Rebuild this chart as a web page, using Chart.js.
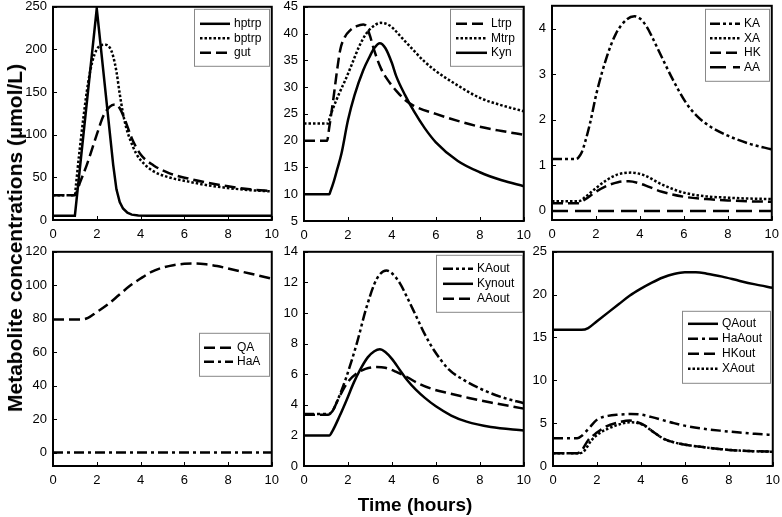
<!DOCTYPE html>
<html>
<head>
<meta charset="utf-8">
<script src="https://cdn.jsdelivr.net/npm/chart.js@4.4.0/dist/chart.umd.min.js"></script>
<style>
    body { margin: 0; background: #fff; }
    #wrap { position: relative; width: 782px; height: 517px; overflow: hidden; font-family: "Liberation Sans", Arial, sans-serif; }
    #wrap canvas { position: absolute; }
    .ytitle { position: absolute; left: 15px; top: 238px; transform: translate(-50%, -50%) rotate(-90deg); font-weight: bold; font-size: 21px; white-space: nowrap; }
    .xtitle { position: absolute; left: 415px; top: 505px; transform: translate(-50%, -50%); font-weight: bold; font-size: 19px; white-space: nowrap; }
</style>
</head>
<body>
<div id="wrap">
    <canvas id="p1"></canvas>
    <canvas id="p2"></canvas>
    <canvas id="p3"></canvas>
    <canvas id="p4"></canvas>
    <canvas id="p5"></canvas>
    <canvas id="p6"></canvas>
    <div class="ytitle">Metabolite concentrations (µmol/L)</div>
    <div class="xtitle">Time (hours)</div>
</div>
<script>
// Values: [time (hours), concentration]

// shared x axis ticks
const hourTicks = [0, 2, 4, 6, 8, 10];

// Panel 1
const hptrp = [[0, 5], [1, 5], [2, 248], [2.25, 187], [2.5, 126], [2.75, 65], [2.9, 36], [3.05, 21], [3.2, 13.5], [3.4, 8.5], [3.6, 6.3], [3.9, 5.2], [4.3, 5], [10, 5]];
const bptrp = [[0, 29], [1, 29], [1.05, 41], [1.2, 78], [1.4, 122], [1.6, 160], [1.8, 186], [2.0, 200], [2.2, 205], [2.4, 205.5], [2.6, 202], [2.75, 192], [2.9, 174], [3.05, 148], [3.2, 125], [3.35, 108], [3.5, 96], [3.8, 78], [4.2, 65], [4.6, 57], [5.3, 50], [6.2, 45], [7, 41], [8, 37.5], [9, 35], [10, 33.5]];
const gut = [[0, 29], [1, 29], [1.05, 31], [1.25, 45], [1.55, 65], [2, 100], [2.3, 122], [2.6, 133], [2.85, 135.5], [3.05, 131], [3.25, 120], [3.6, 96], [4, 77], [4.6, 64], [5.3, 55], [6.2, 48.5], [7, 44], [8, 39.5], [9, 36], [10, 34]];
const p1Ticks = [0, 50, 100, 150, 200, 250];

// Panel 2
const Ltrp = [[0, 20], [1.05, 20], [1.15, 22.5], [1.33, 27.6], [1.5, 33], [1.65, 37], [1.85, 39.3], [2.1, 40.6], [2.4, 41.4], [2.7, 41.7], [2.85, 41.3], [3.0, 39.6], [3.2, 36.8], [3.5, 33.5], [3.8, 31.4], [4.2, 29.3], [4.6, 27.6], [5, 26.5], [6, 25], [7, 23.7], [8, 22.6], [9, 21.8], [10, 21.1]];
const Mtrp = [[0, 23.2], [1.1, 23.2], [1.15, 24], [1.3, 25.8], [1.6, 28.8], [1.9, 31.5], [2.2, 34.5], [2.5, 37.5], [2.8, 39.8], [3.1, 41.2], [3.5, 42], [3.9, 41.5], [4.5, 39], [5, 36.8], [5.5, 34.7], [6, 33], [7, 30.3], [8, 28], [9, 26.6], [10, 25.5]];
const Kyn = [[0, 10], [1.15, 10], [1.2, 10.5], [1.35, 12.3], [1.5, 14.5], [1.7, 17.5], [2, 23.8], [2.3, 28.5], [2.7, 33.2], [3, 35.8], [3.2, 37.3], [3.45, 38.2], [3.7, 37.3], [4, 34.5], [4.2, 32], [4.6, 28.5], [5, 25.5], [5.5, 22.3], [6, 19.7], [7, 16.2], [8, 14.1], [9, 12.6], [10, 11.5]];
const p2Ticks = [5, 10, 15, 20, 25, 30, 35, 40, 45];

// Panel 3
const KA = [[0, 1.14], [1.1, 1.14], [1.2, 1.17], [1.35, 1.28], [1.5, 1.5], [1.73, 1.92], [2.03, 2.59], [2.5, 3.39], [2.9, 3.88], [3.4, 4.2], [3.75, 4.27], [4, 4.22], [4.3, 4.05], [4.6, 3.77], [4.9, 3.47], [5.5, 2.88], [6.1, 2.37], [6.6, 2.08], [7.2, 1.85], [8, 1.65], [8.4, 1.57], [9, 1.47], [10, 1.35]];
const XA = [[0, 0.21], [1.2, 0.21], [1.5, 0.3], [2, 0.5], [2.5, 0.68], [3, 0.8], [3.6, 0.84], [4.2, 0.78], [5, 0.58], [6, 0.4], [7, 0.32], [8, 0.29], [9, 0.27], [10, 0.26]];
const HK = [[0, 0.17], [1.2, 0.17], [1.5, 0.25], [2, 0.42], [2.5, 0.55], [3, 0.63], [3.5, 0.65], [4, 0.6], [5, 0.42], [6, 0.31], [7, 0.26], [8, 0.23], [9, 0.21], [10, 0.2]];
const AA = [[0, 0], [10, 0]];
const p3Ticks = [0, 1, 2, 3, 4];

// Panel 4
const QA = [[0, 79.5], [1.3, 79.5], [1.6, 80.5], [2, 84], [2.5, 88.5], [3, 94], [3.5, 99.5], [4, 104], [4.5, 108], [5, 110.5], [5.5, 112], [6, 112.8], [6.5, 113], [7, 112.5], [7.5, 111.5], [8, 110], [9, 107], [10, 104]];
const HaA = [[0, 0], [10, 0]];
const p4Ticks = [0, 20, 40, 60, 80, 100, 120];

// Panel 5
const KAout = [[0, 3.4], [1.1, 3.4], [1.3, 3.6], [1.5, 4.2], [1.9, 5.7], [2.4, 8], [2.85, 10.4], [3.3, 12.2], [3.75, 12.77], [4, 12.6], [4.36, 11.95], [4.7, 11], [5.1, 9.8], [5.5, 8.6], [5.9, 7.6], [6.6, 6.3], [7.3, 5.6], [8.1, 5], [9, 4.5], [10, 4.1]];
const Kynout = [[0, 2], [1.15, 2], [1.3, 2.3], [1.6, 3.2], [1.94, 4.32], [2.25, 5.4], [2.55, 6.28], [2.9, 7.1], [3.2, 7.5], [3.45, 7.63], [3.7, 7.45], [4, 7.0], [4.36, 6.28], [4.7, 5.6], [5.1, 4.97], [5.5, 4.45], [6, 3.9], [6.7, 3.3], [7.4, 2.9], [8.5, 2.55], [10, 2.32]];
const AAout = [[0, 3.35], [1.1, 3.35], [1.3, 3.6], [1.6, 4.5], [2, 5.5], [2.4, 6.05], [2.8, 6.35], [3.3, 6.47], [3.7, 6.42], [4.2, 6.15], [4.7, 5.8], [5.2, 5.4], [5.8, 5.05], [6.6, 4.75], [7.5, 4.45], [8.5, 4.15], [10, 3.75]];
const p5Ticks = [0, 2, 4, 6, 8, 10, 12, 14];

// Panel 6
const QAout = [[0, 15.9], [1.3, 15.9], [1.6, 16.1], [2, 16.9], [2.5, 17.9], [3, 18.9], [3.5, 19.9], [4, 20.7], [4.5, 21.4], [5, 22], [5.5, 22.4], [6, 22.6], [6.5, 22.6], [7, 22.45], [7.7, 22.1], [8.5, 21.6], [9.2, 21.2], [10, 20.8]];
const HaAout = [[0, 3.23], [1.1, 3.23], [1.3, 3.5], [1.6, 4.3], [2.0, 5.4], [2.5, 5.85], [3, 6.0], [3.55, 6.07], [4, 6.0], [4.5, 5.7], [5, 5.35], [5.5, 5.0], [6.1, 4.65], [7, 4.3], [7.7, 4.1], [8.5, 3.9], [9.2, 3.75], [10, 3.62]];
const HKout = [[0, 1.48], [1.1, 1.48], [1.3, 1.8], [1.6, 3.0], [2, 3.9], [2.4, 4.6], [3, 5.1], [3.5, 5.3], [3.8, 5.15], [4.2, 4.7], [4.6, 3.9], [5.1, 3.1], [5.6, 2.7], [6.1, 2.45], [7, 2.15], [7.7, 1.95], [8.5, 1.8], [9.2, 1.72], [10, 1.67]];
const XAout = [[0, 1.48], [1.2, 1.48], [1.4, 1.7], [1.75, 3.0], [2.1, 3.8], [2.5, 4.35], [3, 4.85], [3.5, 5.1], [3.8, 5.05], [4.2, 4.65], [4.6, 3.9], [5.1, 3.1], [5.6, 2.7], [6.1, 2.45], [7, 2.15], [7.7, 1.95], [8.5, 1.8], [9.2, 1.72], [10, 1.67]];
const p6Ticks = [0, 5, 10, 15, 20, 25];

// Line styles
const LINE_W = 2.5;
const dash = {
    solid: [],
    dotted: [2.5, 2],
    dashed: [11, 5],
    longDash: [16, 7],
    dashDot: [10, 4, 3, 4],
    dashDotDot: [10, 3, 3, 3, 3, 3]
};

function series(label, points, style, straight) {
    return {
        label: label,
        data: points.map(p => ({ x: p[0], y: p[1] })),
        borderColor: '#000',
        borderWidth: LINE_W,
        borderDash: dash[style],
        pointRadius: 0,
        tension: straight ? 0 : 0.4,
        cubicInterpolationMode: straight ? 'default' : 'monotone',
        fill: false
    };
}

// Plot box, inward ticks and the boxed legend
const framePlugin = {
    id: 'frame',
    afterDatasetsDraw(chart, args, opts) {
        const { ctx, chartArea: a, scales } = chart;
        ctx.save();
        ctx.setLineDash([]);
        ctx.strokeStyle = '#000';
        ctx.lineWidth = 2;
        ctx.strokeRect(a.left, a.top, a.right - a.left, a.bottom - a.top);

        ctx.lineWidth = 1;
        scales.x.ticks.forEach(t => {
            const px = Math.round(scales.x.getPixelForValue(t.value)) + 0.5;
            ctx.beginPath(); ctx.moveTo(px, a.bottom); ctx.lineTo(px, a.bottom - 4); ctx.stroke();
        });
        scales.y.ticks.forEach(t => {
            const py = Math.round(scales.y.getPixelForValue(t.value)) + 0.5;
            ctx.beginPath(); ctx.moveTo(a.left, py); ctx.lineTo(a.left + 4, py); ctx.stroke();
        });

        // legend: page coordinates -> canvas coordinates
        const lg = opts.legend;
        const ox = opts.area.left - a.left, oy = opts.area.top - a.top;
        ctx.fillStyle = '#fff';
        ctx.fillRect(lg.x - ox, lg.y - oy, lg.w, lg.h);
        ctx.strokeStyle = '#888';
        ctx.lineWidth = 1;
        ctx.strokeRect(lg.x - ox + 0.5, lg.y - oy + 0.5, lg.w, lg.h);
        ctx.font = '12px "Liberation Sans", Arial, sans-serif';
        ctx.textBaseline = 'middle';
        chart.data.datasets.forEach((ds, i) => {
            const y = lg.row0 + i * lg.gap - oy;
            ctx.strokeStyle = '#000';
            ctx.lineWidth = LINE_W;
            ctx.setLineDash(ds.borderDash);
            ctx.beginPath();
            ctx.moveTo(lg.lineX - ox, y);
            ctx.lineTo(lg.lineX + lg.lineW - ox, y);
            ctx.stroke();
            ctx.setLineDash([]);
            ctx.fillStyle = '#000';
            ctx.fillText(ds.label, lg.lineX + lg.lineW + 4 - ox, y);
        });
        ctx.restore();
    }
};

const AXIS_W = 53, PAD_TOP = 8, PAD_RIGHT = 14, XAXIS_H = 26;
const tickFont = { family: '"Liberation Sans", Arial, sans-serif', size: 13 };

function buildChart(canvas, width, height, area, yMin, yMax, yTicks, datasets, legend) {
    canvas.width = width;
    canvas.height = height;
    canvas.style.width = width + 'px';
    canvas.style.height = height + 'px';
    return new Chart(canvas.getContext('2d'), {
        type: 'line',
        data: { datasets: datasets },
        options: {
            responsive: false,
            maintainAspectRatio: false,
            animation: false,
            layout: { padding: { top: PAD_TOP, right: PAD_RIGHT, left: 0, bottom: 0 } },
            plugins: {
                legend: { display: false },
                tooltip: { enabled: false },
                frame: { legend: legend, area: area }
            },
            scales: {
                x: {
                    type: 'linear',
                    min: 0,
                    max: 10,
                    grid: { display: false, drawTicks: false },
                    border: { display: false },
                    ticks: { color: '#000', font: tickFont, padding: 7, maxRotation: 0, autoSkip: false },
                    afterBuildTicks: s => { s.ticks = hourTicks.map(v => ({ value: v })); },
                    afterFit: s => { s.height = XAXIS_H; }
                },
                y: {
                    type: 'linear',
                    min: yMin,
                    max: yMax,
                    grid: { display: false, drawTicks: false },
                    border: { display: false },
                    ticks: { color: '#000', font: tickFont, padding: 6, autoSkip: false },
                    afterBuildTicks: s => { s.ticks = yTicks.map(v => ({ value: v })); },
                    afterFit: s => { s.width = AXIS_W; }
                }
            }
        },
        plugins: [framePlugin]
    });
}

// area = plot box of the panel in page pixels
function createPanel(id, area, yMin, yMax, yTicks, datasets, legend) {
    const canvas = document.getElementById(id);
    const width = (area.right - area.left) + AXIS_W + PAD_RIGHT;
    let height = (area.bottom - area.top) + PAD_TOP + XAXIS_H;
    let chart = buildChart(canvas, width, height, area, yMin, yMax, yTicks, datasets, legend);

    // Chart.js may push the plot box down for the top tick label: rebuild taller to keep the box height
    const extra = Math.round((area.bottom - area.top) - (chart.chartArea.bottom - chart.chartArea.top));
    if (extra !== 0) {
        chart.destroy();
        height += extra;
        chart = buildChart(canvas, width, height, area, yMin, yMax, yTicks, datasets, legend);
    }
    canvas.style.left = (area.left - chart.chartArea.left) + 'px';
    canvas.style.top = (area.top - chart.chartArea.top) + 'px';
    return chart;
}

createPanel('p1', { left: 53, right: 272, top: 7, bottom: 220 }, 0, 250, p1Ticks, [
    series('hptrp', hptrp, 'solid', true),
    series('bptrp', bptrp, 'dotted'),
    series('gut', gut, 'dashed')
], { x: 194, y: 9, w: 75, h: 57, lineX: 200, lineW: 30, row0: 24, gap: 14.5 });

createPanel('p2', { left: 304, right: 524, top: 7, bottom: 221 }, 5, 45, p2Ticks, [
    series('Ltrp', Ltrp, 'dashed'),
    series('Mtrp', Mtrp, 'dotted'),
    series('Kyn', Kyn, 'solid')
], { x: 450, y: 9, w: 72, h: 57, lineX: 456, lineW: 31, row0: 24, gap: 14.5 });

createPanel('p3', { left: 552, right: 772, top: 6, bottom: 220 }, -0.2, 4.5, p3Ticks, [
    series('KA', KA, 'dashDotDot'),
    series('XA', XA, 'dotted'),
    series('HK', HK, 'dashed'),
    series('AA', AA, 'longDash')
], { x: 705, y: 9, w: 64, h: 72, lineX: 710, lineW: 30, row0: 24, gap: 14.5 });

createPanel('p4', { left: 53, right: 272, top: 252, bottom: 466 }, -8, 120, p4Ticks, [
    series('QA', QA, 'dashed'),
    series('HaA', HaA, 'dashDot')
], { x: 199, y: 333, w: 70, h: 43, lineX: 204, lineW: 29, row0: 348, gap: 14 });

createPanel('p5', { left: 304, right: 524, top: 252, bottom: 466 }, 0, 14, p5Ticks, [
    series('KAout', KAout, 'dashDotDot'),
    series('Kynout', Kynout, 'solid'),
    series('AAout', AAout, 'dashed')
], { x: 436, y: 255, w: 86, h: 57, lineX: 443, lineW: 30, row0: 269, gap: 15 });

createPanel('p6', { left: 553, right: 773, top: 252, bottom: 466 }, 0, 25, p6Ticks, [
    series('QAout', QAout, 'solid'),
    series('HaAout', HaAout, 'dashDot'),
    series('HKout', HKout, 'dashed'),
    series('XAout', XAout, 'dotted')
], { x: 682, y: 311, w: 88, h: 72, lineX: 688, lineW: 30, row0: 324, gap: 15 });
</script>
</body>
</html>
